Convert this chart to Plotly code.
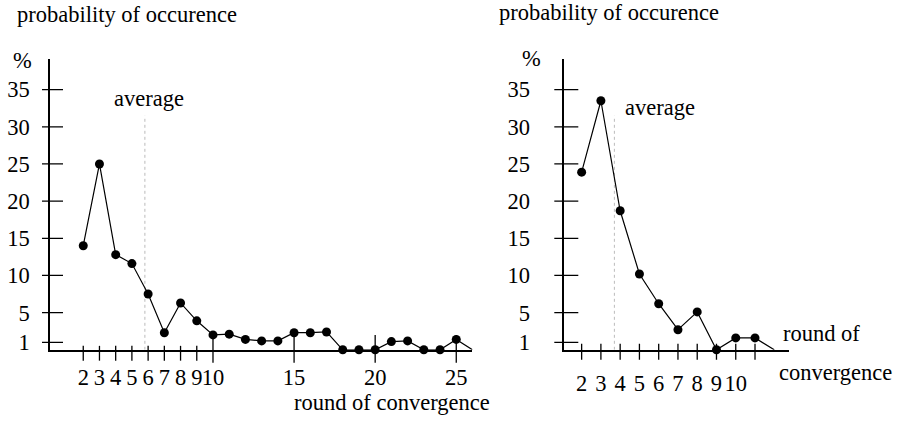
import plotly.graph_objects as go

# ---------------- data ----------------
left_rounds = list(range(2, 26))
left_pct = [14.0, 25.0, 12.8, 11.6, 7.5, 2.3, 6.3, 3.9, 2.0, 2.1, 1.4, 1.2, 1.2,
            2.3, 2.3, 2.4, 0.0, 0.0, 0.0, 1.1, 1.2, 0.0, 0.0, 1.4]
left_line_end = 26          # line runs down to the axis after the last round
left_average = 5.8
left_xtick_vals = [2, 3, 4, 5, 6, 7, 8, 9, 10, 15, 20, 25]
left_xtick_text = [str(v) for v in left_xtick_vals]
left_small_ticks = [2, 3, 4, 5, 6, 7, 8, 9]
left_long_ticks = [10, 15, 20, 25]

right_rounds = list(range(2, 12))
right_pct = [23.9, 33.5, 18.7, 10.2, 6.2, 2.7, 5.1, 0.0, 1.6, 1.6]
right_line_end = 12
right_average = 3.7
right_xtick_vals = [2, 3, 4, 5, 6, 7, 8, 9, 10]
right_xtick_text = [str(v) for v in right_xtick_vals]
right_small_ticks = [2, 3, 4, 5, 6, 7, 8, 9, 10, 11]

ytick_vals = [1, 5, 10, 15, 20, 25, 30, 35]
ytick_text = [str(v) for v in ytick_vals]
average_top = 31.5

# ---------------- layout geometry ----------------
W, H = 903, 421
FONT = "Liberation Serif"
FS = 22.5

Y_TOP, Y_AXIS = 60, 354
y_range = [0, 39.08]
y_dom = [(H - Y_AXIS) / H, (H - Y_TOP) / H]

LX0 = 50
left_range = [-0.05, 26.0]
left_scale = 16.218
left_dom = [LX0 / W, (LX0 + (left_range[1] - left_range[0]) * left_scale) / W]

RX0, RX1 = 564.3, 789.3
right_range = [1.10, 12.78]
right_dom = [RX0 / W, RX1 / W]


def px(x):
    return x / W


def py(y):
    return 1 - y / H


fig = go.Figure()

# lines (including the closing segment to the axis)
fig.add_trace(go.Scatter(x=left_rounds + [left_line_end], y=left_pct + [0],
                         mode="lines", line=dict(color="black", width=1.2),
                         xaxis="x", yaxis="y", cliponaxis=False, hoverinfo="skip"))
fig.add_trace(go.Scatter(x=left_rounds, y=left_pct, mode="markers",
                         marker=dict(color="black", size=9),
                         xaxis="x", yaxis="y", cliponaxis=False))
fig.add_trace(go.Scatter(x=right_rounds + [right_line_end], y=right_pct + [0],
                         mode="lines", line=dict(color="black", width=1.2),
                         xaxis="x2", yaxis="y2", cliponaxis=False, hoverinfo="skip"))
fig.add_trace(go.Scatter(x=right_rounds, y=right_pct, mode="markers",
                         marker=dict(color="black", size=9),
                         xaxis="x2", yaxis="y2", cliponaxis=False))

shapes = []
# average dotted lines
for xa, ya, avg in (("x", "y", left_average), ("x2", "y2", right_average)):
    shapes.append(dict(type="line", xref=xa, yref=ya, x0=avg, x1=avg, y0=0, y1=average_top,
                       line=dict(color="#bbbbbb", width=1, dash="dot"), layer="below"))

TICK = dict(color="black", width=1.3)


# crossing ticks on x axes (y extent in paper units so they are not clipped)
def xtick(xa, v, up, down):
    return dict(type="line", xref=xa, yref="paper", x0=v, x1=v,
                y0=py(Y_AXIS + down), y1=py(Y_AXIS - up), line=TICK)


for v in left_small_ticks:
    shapes.append(xtick("x", v, 4, 11))
for v in left_long_ticks:
    shapes.append(xtick("x", v, 15, 13))
for v in right_small_ticks:
    shapes.append(xtick("x2", v, 6, 10))

# crossing ticks on y axes (x extent in paper units)
for ya, x0, l, r in (("y", LX0, 8, 13), ("y2", RX0, 10, 14)):
    for v in ytick_vals:
        shapes.append(dict(type="line", xref="paper", yref=ya, x0=px(x0 - l), x1=px(x0 + r),
                           y0=v, y1=v, line=TICK))

tf = dict(family=FONT, size=FS, color="black")


def ann(text, x, y, xanchor="left"):
    return dict(text=text, x=px(x), y=py(y), xref="paper", yref="paper",
                xanchor=xanchor, yanchor="middle", showarrow=False, font=tf)


annotations = [
    ann("probability of occurence", 15, 15),
    ann("probability of occurence", 497, 13),
    ann("%", 11, 61),
    ann("%", 520, 59),
    ann("average", 149, 100, "center"),
    ann("average", 660, 109, "center"),
    ann("round of convergence", 292, 407),
    ann("round of", 781, 338),
    ann("convergence", 777, 377),
]

axis_common = dict(showline=True, linecolor="black", linewidth=1.5, showgrid=False,
                   zeroline=False, ticks="", tickfont=tf, fixedrange=True, tickangle=0)

fig.update_layout(
    width=W, height=H,
    margin=dict(l=0, r=0, t=0, b=0),
    paper_bgcolor="white", plot_bgcolor="white",
    showlegend=False,
    xaxis=dict(domain=left_dom, range=left_range, anchor="y", tickvals=left_xtick_vals,
               ticktext=left_xtick_text, ticklabelstandoff=6, **axis_common),
    yaxis=dict(domain=y_dom, range=y_range, anchor="x", tickvals=ytick_vals,
               ticktext=ytick_text, ticklabelstandoff=14, **axis_common),
    xaxis2=dict(domain=right_dom, range=right_range, anchor="y2", tickvals=right_xtick_vals,
                ticktext=right_xtick_text, ticklabelstandoff=12, **axis_common),
    yaxis2=dict(domain=y_dom, range=y_range, anchor="x2", tickvals=ytick_vals,
                ticktext=ytick_text, ticklabelstandoff=28, **axis_common),
    shapes=shapes,
    annotations=annotations,
)

fig.write_html(
    "out.html",
    config={"displayModeBar": False},
    post_script="document.body.style.margin='0';document.body.style.overflow='hidden';",
)
